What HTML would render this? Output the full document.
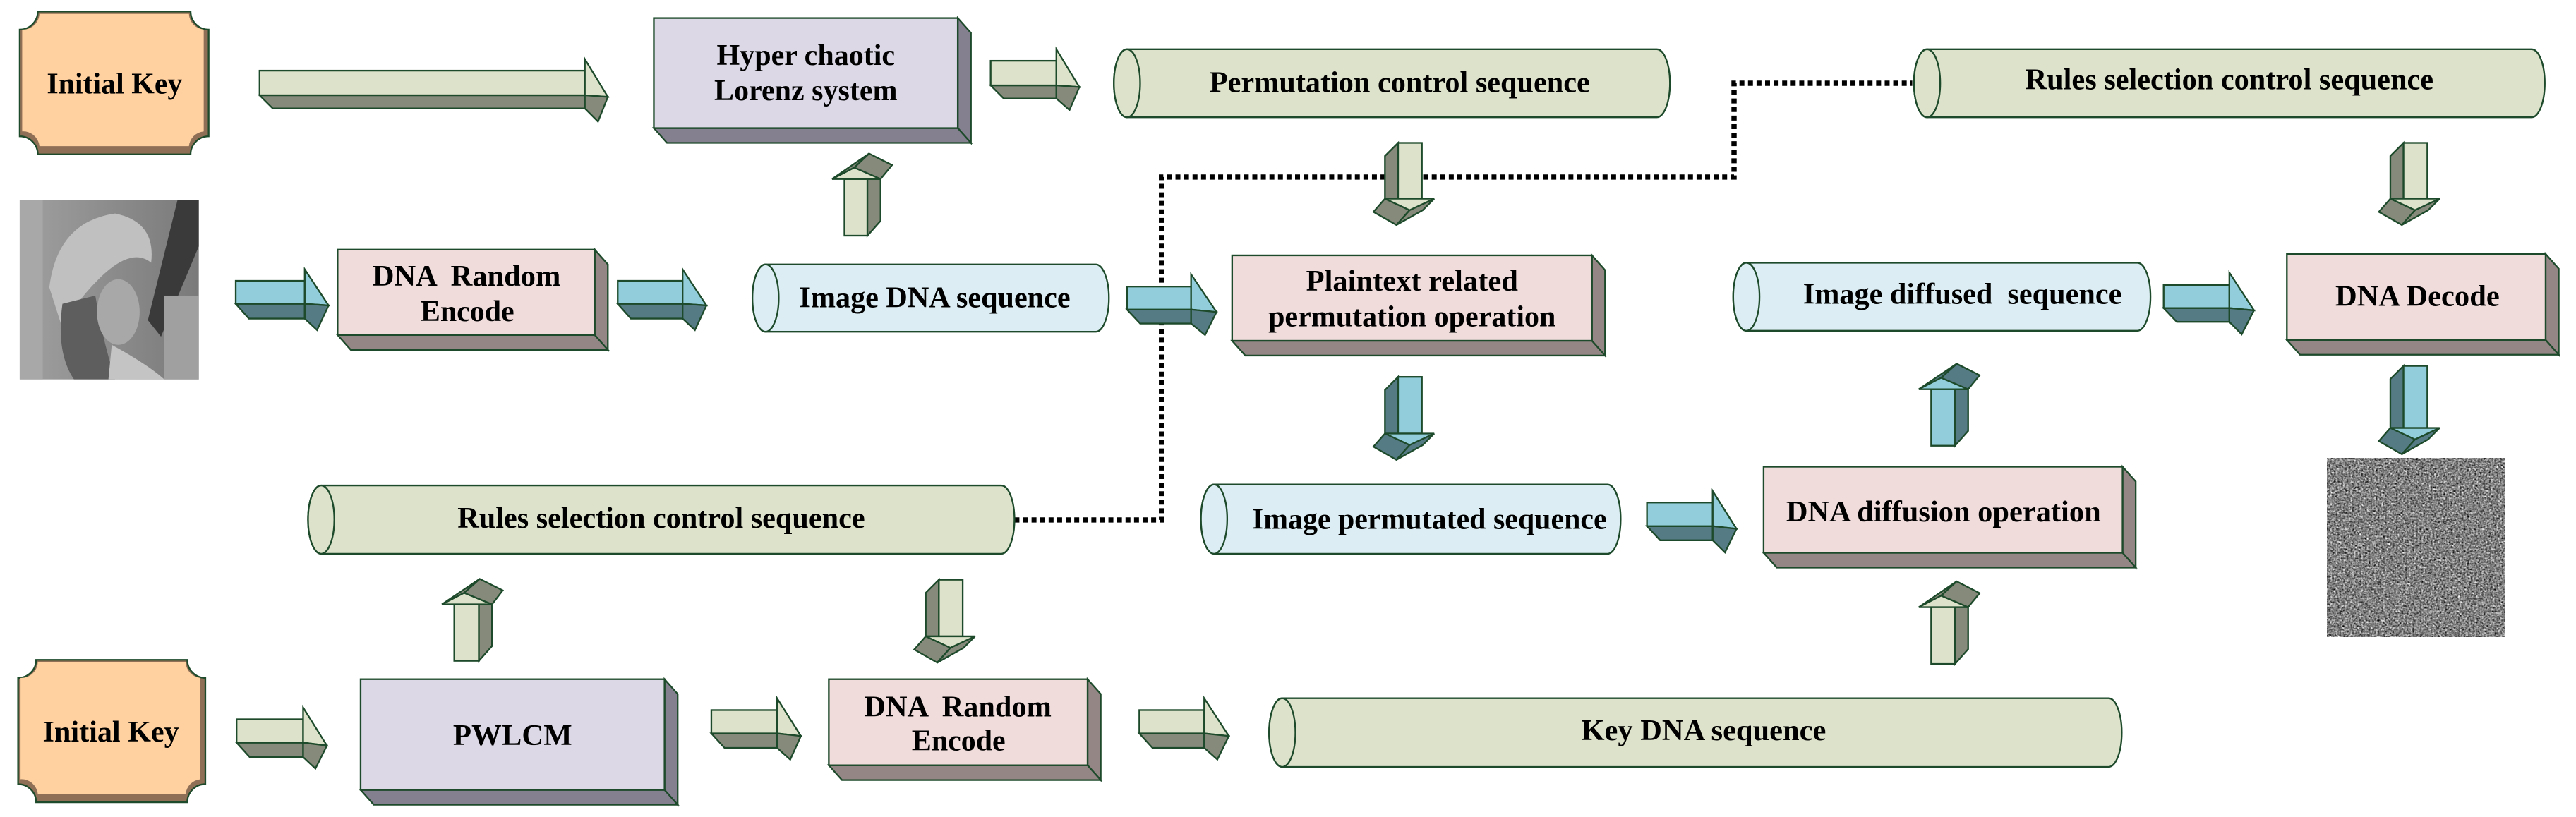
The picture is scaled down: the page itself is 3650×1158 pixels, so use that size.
<!DOCTYPE html>
<html><head><meta charset="utf-8"><style>
html,body{margin:0;padding:0;background:#fff;}
svg{display:block;}
text{font-family:"Liberation Serif",serif;font-weight:bold;font-size:18px;fill:#000;text-anchor:middle;}
</style></head><body>
<svg width="3650" height="1158" viewBox="0 0 1568 497.5" preserveAspectRatio="none" xmlns="http://www.w3.org/2000/svg">
<defs>
<filter id="noise" x="0" y="0" width="100%" height="100%" color-interpolation-filters="sRGB">
<feTurbulence type="fractalNoise" baseFrequency="0.9" numOctaves="2" seed="3"/>
<feColorMatrix type="matrix" values="0.7 0.7 0.7 0 -0.55  0.7 0.7 0.7 0 -0.55  0.7 0.7 0.7 0 -0.55  0 0 0 0 1"/>
</filter>
<linearGradient id="lg" x1="0" y1="0" x2="1" y2="0">
<stop offset="0" stop-color="#a0a0a0"/><stop offset="0.5" stop-color="#8c8c8c"/><stop offset="1" stop-color="#7a7a7a"/>
</linearGradient>
</defs>
<g stroke="#1d4a2a" stroke-width="1" stroke-linejoin="miter">

<path d="M617.5,316.6 H707 V107.8 H1055.5 V50.7 H1164" fill="none" stroke="#000" stroke-width="3.2" stroke-dasharray="3 2.2"/>

<path d="M23,7 H116 A11 11 0 0 0 127,18 V83 A11 11 0 0 0 116,94 H23 A11 11 0 0 0 12,83 V18 A11 11 0 0 0 23,7 Z" fill="#8f7056"/>
<path d="M24,8.5 H115 A10 10 0 0 0 124,18 V80 A10 10 0 0 0 115,89 H24 A10 10 0 0 0 13.5,80 V18 A10 10 0 0 0 24,8.5 Z" fill="#ffd0a0" stroke="none"/>
<path d="M22,401.8 H114 A11 11 0 0 0 125,412.8 V477.5 A11 11 0 0 0 114,488.5 H22 A11 11 0 0 0 11,477.5 V412.8 A11 11 0 0 0 22,401.8 Z" fill="#8f7056"/>
<path d="M23,403.3 H113 A10 10 0 0 0 122,412.8 V474.5 A10 10 0 0 0 113,483.5 H23 A10 10 0 0 0 12.5,474.5 V412.8 A10 10 0 0 0 23,403.3 Z" fill="#ffd0a0" stroke="none"/>

<g stroke="none">
<rect x="12" y="122" width="109" height="109" fill="url(#lg)"/>
<rect x="12" y="122" width="14" height="109" fill="#a8a8a8"/>
<path d="M108,122 L121,122 L121,150 L98,205 L90,195 Z" fill="#3a3a3a"/>
<path d="M30,175 Q35,135 70,130 Q95,135 92,160 Q80,150 60,170 Q45,185 38,200 Z" fill="#c0c0c0"/>
<path d="M38,185 Q34,215 45,231 L70,231 Q62,205 58,180 Z" fill="#5e5e5e"/>
<ellipse cx="72" cy="190" rx="13" ry="20" fill="#a8a8a8"/>
<path d="M68,210 Q90,222 100,231 L66,231 Z" fill="#c4c4c4"/>
<rect x="100" y="180" width="21" height="51" fill="#a0a0a0"/>
</g>

<rect x="1416.5" y="279" width="108" height="108.8" fill="#7f7f7f" stroke="none" filter="url(#noise)"/>

<g>
<polygon points="583,11 591,20 591,87 583,78" fill="#858090"/>
<polygon points="398,78 583,78 591,87 406,87" fill="#858090"/>
<rect x="398" y="11" width="185" height="67" fill="#dcd8e6"/>

<polygon points="362,152 370,161 370,213 362,204" fill="#938684"/>
<polygon points="205.5,204 362,204 370,213 213.5,213" fill="#938684"/>
<rect x="205.5" y="152" width="156.5" height="52" fill="#f0dcdb"/>

<polygon points="969,155.5 977,164.5 977,216.5 969,207.5" fill="#938684"/>
<polygon points="750,207.5 969,207.5 977,216.5 758,216.5" fill="#938684"/>
<rect x="750" y="155.5" width="219" height="52" fill="#f0dcdb"/>

<polygon points="1549.5,154.6 1557.5,163.6 1557.5,216 1549.5,207" fill="#938684"/>
<polygon points="1392,207 1549.5,207 1557.5,216 1400,216" fill="#938684"/>
<rect x="1392" y="154.6" width="157.5" height="52.4" fill="#f0dcdb"/>

<polygon points="1292,284.2 1300,293.2 1300,345.6 1292,336.6" fill="#938684"/>
<polygon points="1073.5,336.6 1292,336.6 1300,345.6 1081.5,345.6" fill="#938684"/>
<rect x="1073.5" y="284.2" width="218.5" height="52.4" fill="#f0dcdb"/>

<polygon points="404.5,413.6 412.5,422.6 412.5,490 404.5,481" fill="#858090"/>
<polygon points="219.5,481 404.5,481 412.5,490 227.5,490" fill="#858090"/>
<rect x="219.5" y="413.6" width="185" height="67.4" fill="#dcd8e6"/>

<polygon points="662,413.6 670,422.6 670,475 662,466" fill="#938684"/>
<polygon points="504.5,466 662,466 670,475 512.5,475" fill="#938684"/>
<rect x="504.5" y="413.6" width="157.5" height="52.4" fill="#f0dcdb"/>
</g>

<g>
<path d="M686,30 H1008.5 A8 20.7 0 0 1 1008.5,71.4 H686 A8 20.7 0 0 1 686,30 Z" fill="#dde2cb"/>
<ellipse cx="686" cy="50.7" rx="8" ry="20.7" fill="#dde2cb"/>
<path d="M1173,30 H1541 A8 20.7 0 0 1 1541,71.4 H1173 A8 20.7 0 0 1 1173,30 Z" fill="#dde2cb"/>
<ellipse cx="1173" cy="50.7" rx="8" ry="20.7" fill="#dde2cb"/>
<path d="M466,161 H667 A8 20.5 0 0 1 667,202 H466 A8 20.5 0 0 1 466,161 Z" fill="#dceef3"/>
<ellipse cx="466" cy="181.5" rx="8" ry="20.5" fill="#dceef3"/>
<path d="M1063,160 H1301 A8 20.7 0 0 1 1301,201.4 H1063 A8 20.7 0 0 1 1063,160 Z" fill="#dceef3"/>
<ellipse cx="1063" cy="180.7" rx="8" ry="20.7" fill="#dceef3"/>
<path d="M739,295 H978.5 A8 21.1 0 0 1 978.5,337.2 H739 A8 21.1 0 0 1 739,295 Z" fill="#dceef3"/>
<ellipse cx="739" cy="316.1" rx="8" ry="21.1" fill="#dceef3"/>
<path d="M195.5,295.6 H609.5 A8 20.8 0 0 1 609.5,337.2 H195.5 A8 20.8 0 0 1 195.5,295.6 Z" fill="#dde2cb"/>
<ellipse cx="195.5" cy="316.4" rx="8" ry="20.8" fill="#dde2cb"/>
<path d="M780.5,425.2 H1283.5 A8 20.9 0 0 1 1283.5,467 H780.5 A8 20.9 0 0 1 780.5,425.2 Z" fill="#dde2cb"/>
<ellipse cx="780.5" cy="446.1" rx="8" ry="20.9" fill="#dde2cb"/>
</g>

<polygon points="158,58 356,58 356,66 166,66" fill="#868a7a"/>
<rect x="158" y="43" width="198" height="15" fill="#dde2cb"/>
<polygon points="356,36 370,59 356,58" fill="#dde2cb"/>
<polygon points="356,58 370,59 364,74 356,66" fill="#868a7a"/>
<polygon points="603,52 643,52 643,60 611,60" fill="#868a7a"/>
<rect x="603" y="37" width="40" height="15" fill="#dde2cb"/>
<polygon points="643,30 657,53 643,52" fill="#dde2cb"/>
<polygon points="643,52 657,53 651,67 643,60" fill="#868a7a"/>
<polygon points="143.5,185 185.5,185 185.5,194 151.5,194" fill="#557b84"/>
<rect x="143.5" y="171" width="42" height="14" fill="#92cddb"/>
<polygon points="185.5,164 200,186 185.5,185" fill="#92cddb"/>
<polygon points="185.5,185 200,186 193,201 185.5,194" fill="#557b84"/>
<polygon points="376,185 415.5,185 415.5,194 384,194" fill="#557b84"/>
<rect x="376" y="171" width="39.5" height="14" fill="#92cddb"/>
<polygon points="415.5,164 430,186 415.5,185" fill="#92cddb"/>
<polygon points="415.5,185 430,186 423,201 415.5,194" fill="#557b84"/>
<polygon points="686,188.5 725,188.5 725,197 694,197" fill="#557b84"/>
<rect x="686" y="174.5" width="39" height="14" fill="#92cddb"/>
<polygon points="725,167 740.5,190 725,188.5" fill="#92cddb"/>
<polygon points="725,188.5 740.5,190 733.5,204 725,197" fill="#557b84"/>
<polygon points="1317,187.6 1357,187.6 1357,196 1325,196" fill="#557b84"/>
<rect x="1317" y="173.5" width="40" height="14.1" fill="#92cddb"/>
<polygon points="1357,166 1372,189 1357,187.6" fill="#92cddb"/>
<polygon points="1357,187.6 1372,189 1364.5,203.6 1357,196" fill="#557b84"/>
<polygon points="1002.5,320.4 1042.5,320.4 1042.5,329 1010.5,329" fill="#557b84"/>
<rect x="1002.5" y="306" width="40" height="14.4" fill="#92cddb"/>
<polygon points="1042.5,299 1057,322 1042.5,320.4" fill="#92cddb"/>
<polygon points="1042.5,320.4 1057,322 1050,336.4 1042.5,329" fill="#557b84"/>
<polygon points="144,452.2 184.5,452.2 184.5,461 152,461" fill="#868a7a"/>
<rect x="144" y="438" width="40.5" height="14.2" fill="#dde2cb"/>
<polygon points="184.5,430.8 199,454 184.5,452.2" fill="#dde2cb"/>
<polygon points="184.5,452.2 199,454 192,468 184.5,461" fill="#868a7a"/>
<polygon points="433,446.6 473,446.6 473,455.4 441,455.4" fill="#868a7a"/>
<rect x="433" y="432.4" width="40" height="14.2" fill="#dde2cb"/>
<polygon points="473,425.2 487.5,448.2 473,446.6" fill="#dde2cb"/>
<polygon points="473,446.6 487.5,448.2 481,462.5 473,455.4" fill="#868a7a"/>
<polygon points="693.5,446.6 733,446.6 733,455.4 701.5,455.4" fill="#868a7a"/>
<rect x="693.5" y="432.4" width="39.5" height="14.2" fill="#dde2cb"/>
<polygon points="733,425.2 748,448.2 733,446.6" fill="#dde2cb"/>
<polygon points="733,446.6 748,448.2 741,462.5 733,455.4" fill="#868a7a"/>

<polygon points="843,95 851,87 851,121 843,121" fill="#868a7a"/>
<rect x="851" y="87" width="14.5" height="34" fill="#dde2cb"/>
<polygon points="843,121 873,121 858,128" fill="#dde2cb"/>
<polygon points="843,121 858,128 850,137 836,129" fill="#868a7a"/>
<polygon points="873,121 858,128 850,137 866,128" fill="#868a7a"/>
<polygon points="1455,95 1463,87 1463,121 1455,121" fill="#868a7a"/>
<rect x="1463" y="87" width="14.5" height="34" fill="#dde2cb"/>
<polygon points="1455,121 1485,121 1470,128" fill="#dde2cb"/>
<polygon points="1455,121 1470,128 1462,137 1448,129" fill="#868a7a"/>
<polygon points="1485,121 1470,128 1462,137 1478,128" fill="#868a7a"/>
<polygon points="843,237.5 851,229.5 851,264 843,264" fill="#557b84"/>
<rect x="851" y="229.5" width="14.5" height="34.5" fill="#92cddb"/>
<polygon points="843,264 873,264 858,271" fill="#92cddb"/>
<polygon points="843,264 858,271 850,280 836,272" fill="#557b84"/>
<polygon points="873,264 858,271 850,280 866,271" fill="#557b84"/>
<polygon points="1455,230.8 1463,222.8 1463,260.6 1455,260.6" fill="#557b84"/>
<rect x="1463" y="222.8" width="14.5" height="37.8" fill="#92cddb"/>
<polygon points="1455,260.6 1485,260.6 1470,267.6" fill="#92cddb"/>
<polygon points="1455,260.6 1470,267.6 1462,276.6 1448,268.6" fill="#557b84"/>
<polygon points="1485,260.6 1470,267.6 1462,276.6 1478,267.6" fill="#557b84"/>
<polygon points="563.5,361 571.5,353 571.5,387.5 563.5,387.5" fill="#868a7a"/>
<rect x="571.5" y="353" width="14.5" height="34.5" fill="#dde2cb"/>
<polygon points="563.5,387.5 593.5,387.5 578.5,394.5" fill="#dde2cb"/>
<polygon points="563.5,387.5 578.5,394.5 570.5,403.5 556.5,395.5" fill="#868a7a"/>
<polygon points="593.5,387.5 578.5,394.5 570.5,403.5 586.5,394.5" fill="#868a7a"/>

<rect x="514" y="109" width="14" height="34.5" fill="#dde2cb"/>
<polygon points="528,109 536,109 536,134.5 528,143.5" fill="#868a7a"/>
<polygon points="506.5,109 520,102 536,109" fill="#dde2cb"/>
<polygon points="520,102 529,93.5 543,100.5 536,109" fill="#868a7a"/>
<polygon points="506.5,109 520,102 529,93.5" fill="#868a7a"/>
<rect x="276.5" y="368" width="15" height="34.4" fill="#dde2cb"/>
<polygon points="291.5,368 299.5,368 299.5,393.4 291.5,402.4" fill="#868a7a"/>
<polygon points="269,368 282.5,361 299.5,368" fill="#dde2cb"/>
<polygon points="282.5,361 292,352.5 306,359.5 299.5,368" fill="#868a7a"/>
<polygon points="269,368 282.5,361 292,352.5" fill="#868a7a"/>
<rect x="1175.5" y="237" width="14.5" height="34.4" fill="#92cddb"/>
<polygon points="1190,237 1198,237 1198,262.4 1190,271.4" fill="#557b84"/>
<polygon points="1168,237 1181.5,230 1198,237" fill="#92cddb"/>
<polygon points="1181.5,230 1191,221.5 1205,228.5 1198,237" fill="#557b84"/>
<polygon points="1168,237 1181.5,230 1191,221.5" fill="#557b84"/>
<rect x="1175.5" y="369.7" width="14.5" height="34.6" fill="#dde2cb"/>
<polygon points="1190,369.7 1198,369.7 1198,395.3 1190,404.3" fill="#868a7a"/>
<polygon points="1168,369.7 1181.5,362.7 1198,369.7" fill="#dde2cb"/>
<polygon points="1181.5,362.7 1191,354 1205,361.2 1198,369.7" fill="#868a7a"/>
<polygon points="1168,369.7 1181.5,362.7 1191,354" fill="#868a7a"/>
</g>

<g>
<text x="69.75" y="57" textLength="82.5" lengthAdjust="spacingAndGlyphs">Initial Key</text>
<text x="67.5" y="451.5" textLength="83" lengthAdjust="spacingAndGlyphs">Initial Key</text>
<text x="490.5" y="39.5" textLength="108.5" lengthAdjust="spacingAndGlyphs">Hyper chaotic</text>
<text x="490.5" y="61" textLength="111.5" lengthAdjust="spacingAndGlyphs">Lorenz system</text>
<text x="284" y="174" textLength="114.5" lengthAdjust="spacingAndGlyphs" xml:space="preserve">DNA  Random</text>
<text x="284.5" y="195.5" textLength="57" lengthAdjust="spacingAndGlyphs">Encode</text>
<text x="569" y="187" textLength="165" lengthAdjust="spacingAndGlyphs">Image DNA sequence</text>
<text x="859.5" y="177" textLength="129" lengthAdjust="spacingAndGlyphs">Plaintext related</text>
<text x="859.5" y="198.7" textLength="175" lengthAdjust="spacingAndGlyphs">permutation operation</text>
<text x="852" y="56" textLength="231.5" lengthAdjust="spacingAndGlyphs">Permutation control sequence</text>
<text x="1357" y="54.4" textLength="248.5" lengthAdjust="spacingAndGlyphs">Rules selection control sequence</text>
<text x="1194.5" y="185" textLength="194" lengthAdjust="spacingAndGlyphs" xml:space="preserve">Image diffused  sequence</text>
<text x="1471.5" y="186.3" textLength="100" lengthAdjust="spacingAndGlyphs">DNA Decode</text>
<text x="870" y="322" textLength="216" lengthAdjust="spacingAndGlyphs">Image permutated sequence</text>
<text x="1183" y="317.4" textLength="191.5" lengthAdjust="spacingAndGlyphs">DNA diffusion operation</text>
<text x="1037" y="450.6" textLength="149" lengthAdjust="spacingAndGlyphs">Key DNA sequence</text>
<text x="402.5" y="321.3" textLength="248" lengthAdjust="spacingAndGlyphs">Rules selection control sequence</text>
<text x="312" y="453.7" textLength="72.5" lengthAdjust="spacingAndGlyphs">PWLCM</text>
<text x="583" y="436.3" textLength="114" lengthAdjust="spacingAndGlyphs" xml:space="preserve">DNA  Random</text>
<text x="583.5" y="457" textLength="57" lengthAdjust="spacingAndGlyphs">Encode</text>
</g>
</svg>
</body></html>
